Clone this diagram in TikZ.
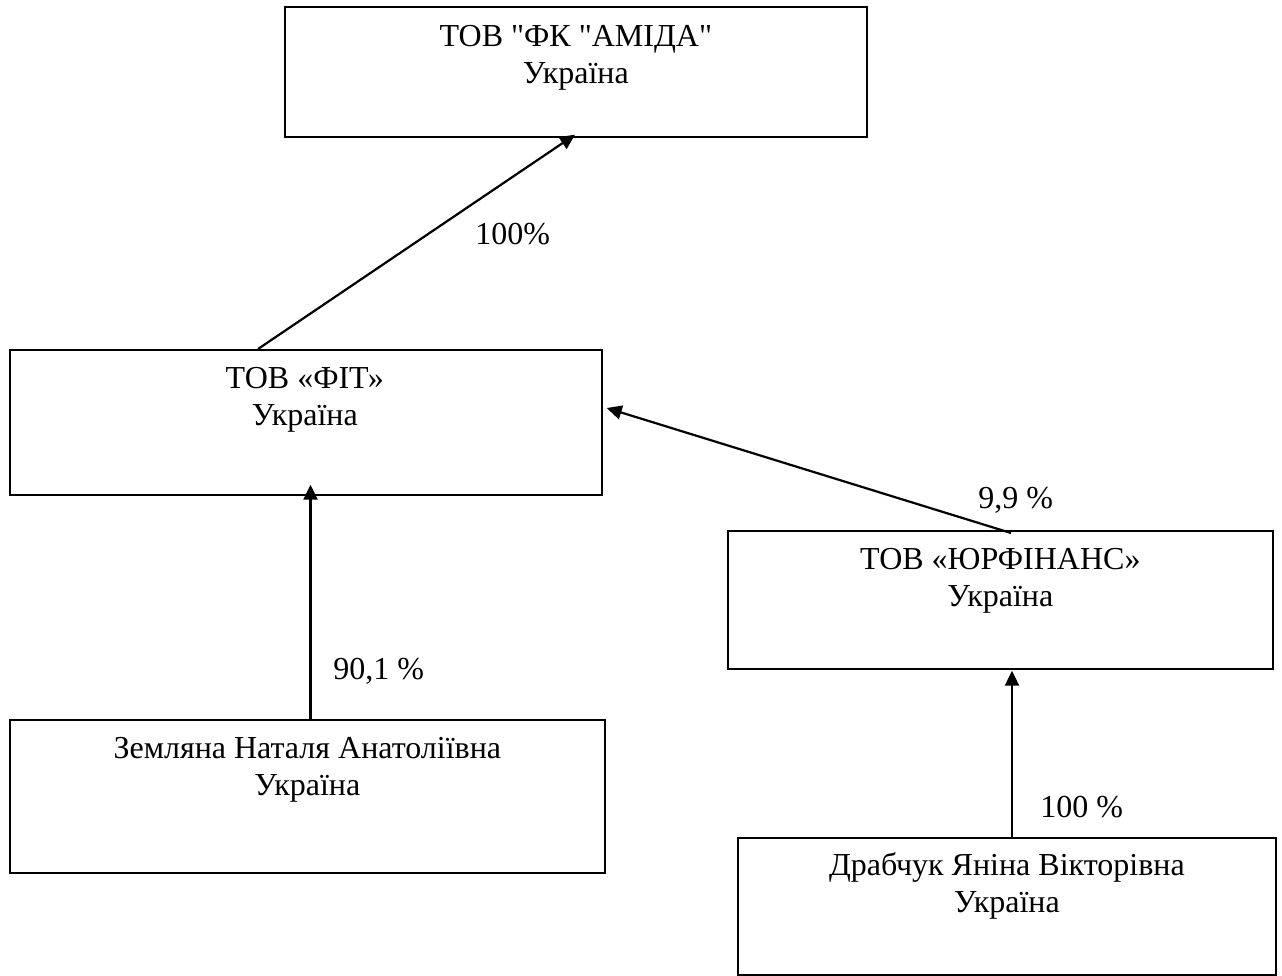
\documentclass[tikz,border=0pt]{standalone}
\usepackage{fontspec}
\setmainfont{Liberation Serif}
\usetikzlibrary{calc,arrows.meta}
\begin{document}
\begin{tikzpicture}[x=0.5pt,y=-0.5pt,
  box/.style={draw,line width=0.85pt,inner sep=0pt,anchor=north west},
  txt/.style={anchor=base,inner sep=0pt,font=\fontsize{16pt}{18.5pt}\selectfont},
  arr/.style={line width=1.1pt,-{Triangle[length=7.5pt,width=7pt]}},
  pct/.style={anchor=base west,inner sep=0pt,font=\fontsize{16pt}{18.5pt}\selectfont}]
\useasboundingbox (0,0) rectangle (1282,976);
% boxes
\node[box,minimum width=291pt,minimum height=65pt] (amida) at (284,6) {};
\node[box,minimum width=296pt,minimum height=72.5pt] (fit) at (9,349) {};
\node[box,minimum width=272.5pt,minimum height=69pt] (yurf) at (727,530) {};
\node[box,minimum width=297.5pt,minimum height=76.5pt] (zeml) at (9,719) {};
\node[box,minimum width=269pt,minimum height=68.5pt] (drab) at (737,837) {};
% texts
\node[txt] (amida1) at ($(amida.north)+(0,40)$) {ТОВ \textquotedbl ФК \textquotedbl АМІДА\textquotedbl};
\node[txt] (amida2) at ($(amida.north)+(0,77)$) {Україна};
\node[txt] (fit1) at ($(fit.north)+(-1,39)$) {ТОВ «ФІТ»};
\node[txt] (fit2) at ($(fit.north)+(-1,76)$) {Україна};
\node[txt] (yurf1) at ($(yurf.north)+(0,39)$) {ТОВ «ЮРФІНАНС»};
\node[txt] (yurf2) at ($(yurf.north)+(0,76)$) {Україна};
\node[txt] (zeml1) at ($(zeml.north)+(0,39)$) {Земляна Наталя Анатоліївна};
\node[txt] (zeml2) at ($(zeml.north)+(0,76)$) {Україна};
\node[txt] (drab1) at ($(drab.north)+(0,38)$) {Драбчук Яніна Вікторівна};
\node[txt] (drab2) at ($(drab.north)+(0,75)$) {Україна};
% connector end points
\coordinate (a1s) at ($(fit.north west)+(249,0)$);
\coordinate (a1e) at ($(amida.south west)+(291,-3)$);
\coordinate (a2s) at ($(yurf.north west)+(284,3)$);
\coordinate (a2e) at ($(fit.north east)+(4,59)$);
\coordinate (a3s) at ($(zeml.north west)+(301.5,0)$);
\coordinate (a3e) at ($(fit.south west)+(301.5,-11)$);
\coordinate (a4s) at ($(drab.north west)+(275,0)$);
\coordinate (a4e) at ($(yurf.south west)+(285,1)$);
% connectors
\draw[arr] (a1s) -- (a1e);
\draw[arr] (a2s) -- (a2e);
\draw[arr] (a3s) -- (a3e);
\draw[arr] (a4s) -- (a4e);
% labels
\node[pct] (l1) at (475,244) {100\%};
\node[pct] (l2) at (978,508) {9,9 \%};
\node[pct] (l3) at (333,679) {90,1 \%};
\node[pct] (l4) at (1040,817) {100 \%};
\end{tikzpicture}
\end{document}
